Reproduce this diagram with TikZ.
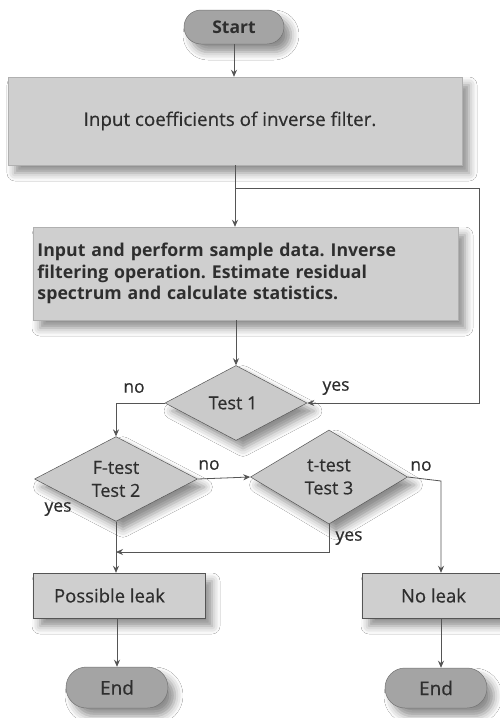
\documentclass[tikz,border=0pt]{standalone}
\usepackage{fontspec}
\setmainfont{Open Sans}
\newfontfamily\medfont[FakeBold=0.5]{Open Sans}
\usetikzlibrary{shapes.geometric,shapes.misc,shadows.blur,arrows.meta,calc}
\definecolor{boxfill}{HTML}{CFCFCF}
\definecolor{pillfill}{HTML}{A4A4A4}
\definecolor{linecol}{HTML}{555555}
\definecolor{txtcol}{HTML}{2E2E2E}
\begin{document}
\begin{tikzpicture}[x=1pt,y=-1pt,
  shad/.style={blur shadow={shadow xshift=7pt,shadow yshift=-8pt,shadow blur radius=8pt,shadow opacity=45}},
  procbox/.style={rectangle,fill=boxfill,draw=boxfill!85!black,line width=0.4pt,inner sep=0pt,shad,text=txtcol},
  pill/.style={rounded rectangle,fill=pillfill,draw=pillfill!70!black,line width=0.5pt,inner sep=0pt,shad,text=txtcol},
  decision/.style={diamond,fill=boxfill!110,draw=linecol,line width=0.5pt,inner sep=0pt,shad,text=txtcol,align=center,font=\medfont\fontsize{18}{23}\selectfont},
  conn/.style={draw=linecol,line width=0.8pt},
  arr/.style={conn,-{Stealth[length=7pt,width=6pt]}},
  lbl/.style={text=txtcol,font=\medfont\fontsize{17.5}{20}\selectfont,inner sep=0pt}]
\clip (0,0) rectangle (500,718);
\fill[white] (0,0) rectangle (500,718);

\node[pill,minimum width=100pt,minimum height=34pt,font=\fontsize{17.5}{20}\selectfont\bfseries] (start) at (234,27) {Start};
\node[procbox,minimum width=454pt,minimum height=88pt,font=\medfont\fontsize{18.8}{22}\selectfont] (box1) at (235,121) {\hspace*{-10pt}Input coefficients of inverse filter.};
\node[procbox,minimum width=425pt,minimum height=93pt,text width=416pt,align=left,font=\fontsize{17.7}{21.5}\selectfont\bfseries] (box2) at (245.5,273.5) {\frenchspacing Input and perform sample data. Inverse\\filtering operation. Estimate residual\\spectrum and calculate statistics.};
\node[decision,minimum width=142pt,minimum height=75pt] (t1) at (236,403) {\hspace*{-6pt}Test 1};
\node[decision,minimum width=163pt,minimum height=83pt] (t2) at (116,479) {F-test\\Test 2};
\node[decision,minimum width=157pt,minimum height=94pt] (t3) at (329,477) {t-test\\Test 3};
\node[procbox,draw=linecol,minimum width=172pt,minimum height=45pt,font=\medfont\fontsize{18.5}{22}\selectfont] (pl) at (119,595.5) {\hspace*{-19pt}Possible leak};
\node[procbox,draw=linecol,minimum width=158pt,minimum height=45pt,font=\medfont\fontsize{18.5}{22}\selectfont] (nl) at (441,595.5) {\hspace*{-15pt}No leak};
\node[pill,minimum width=102pt,minimum height=41pt,font=\medfont\fontsize{19}{22}\selectfont] (end1) at (117,687.5) {End};
\node[pill,minimum width=102pt,minimum height=40pt,font=\medfont\fontsize{19}{22}\selectfont] (end2) at (436,688) {End};

\coordinate (j1) at (235,188);
\coordinate (r1) at (479,188);
\coordinate (m1) at (329,552);
\coordinate (m2) at (116,552);
\coordinate (c3) at (441,481);

\draw[arr] (start.south) -- (start.south |- box1.north);
\draw[arr] (box1.south -| j1) -- (j1 |- box2.north);
\draw[arr] (j1) -- (r1) |- (t1.east);
\draw[arr] (box2.south -| t1.north) -- (t1.north);
\draw[arr] (t1.west) -| (t2.north);
\draw[arr] (t2.east) -- (t3.west);
\draw[arr] (t3.east) -- (c3) -- (c3 |- nl.north);
\draw[arr] (t2.south) -- (t2.south |- pl.north);
\draw[arr] (t3.south) -- (m1) -- (m2);
\draw[arr] (pl.south -| end1.north) -- (end1.north);
\draw[arr] (nl.south) -- (nl.south |- end2.north);

\node[lbl] (lno1) at (134,388) {no};
\node[lbl] (lyes1) at (336,388) {yes};
\node[lbl] (lno2) at (209,465) {no};
\node[lbl] (lyes2) at (58,509) {yes};
\node[lbl] (lno3) at (421,466) {no};
\node[lbl] (lyes3) at (349,538) {yes};
\end{tikzpicture}
\end{document}
